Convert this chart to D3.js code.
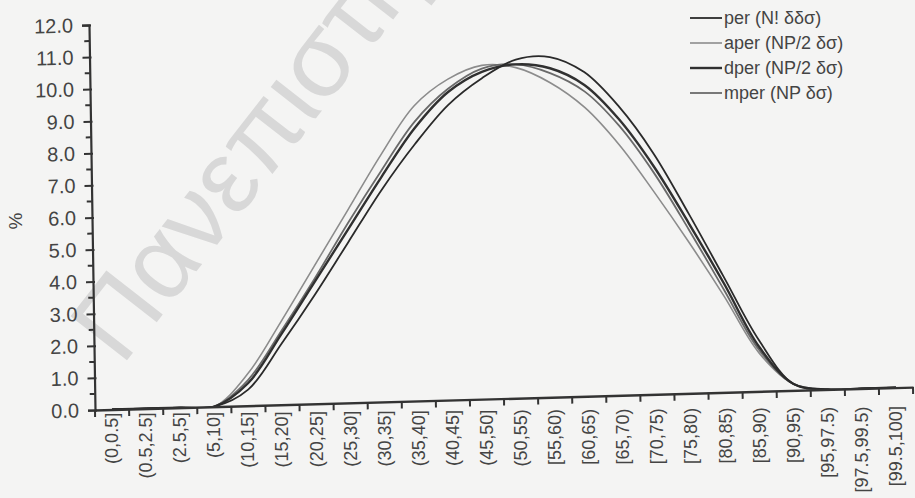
<!DOCTYPE html>
<html>
<head>
<meta charset="utf-8">
<script src="https://cdn.jsdelivr.net/npm/d3@7"></script>
<style>
  body { margin: 0; background: #f4f4f3; }
  svg { display: block; font-family: "Liberation Sans", Arial, sans-serif; }
</style>
</head>
<body>
<div id="grafico"></div>
<script>
// Datos
const categorias = ["(0,0.5]", "(0.5,2.5]", "(2.5,5]", "(5,10]", "(10,15]", "(15,20]", "(20,25]",
  "(25,30]", "(30,35]", "(35,40]", "(40,45]", "(45,50]", "(50,55)", "[55,60)", "[60,65)", "[65,70)",
  "[70,75)", "[75,80)", "[80,85)", "[85,90)", "[90,95)", "[95,97.5)", "[97.5,99.5)", "[99.5,100]"];

const per  = [0, 0, 0, 0, 0.5, 1.9, 3.4, 5.0, 6.6, 8.0, 9.2, 10.0, 10.55, 10.6, 10.1, 9.0, 7.5, 5.6, 3.6, 1.6, 0.2, 0, 0, 0];
const aper = [0, 0, 0, 0, 1.0, 2.6, 4.3, 6.0, 7.7, 9.2, 10.0, 10.4, 10.3, 9.8, 9.0, 7.8, 6.3, 4.7, 3.0, 1.2, 0.2, 0, 0, 0];
const dper = [0, 0, 0, 0, 0.7, 2.2, 3.8, 5.4, 7.0, 8.5, 9.6, 10.2, 10.4, 10.25, 9.7, 8.6, 7.1, 5.3, 3.4, 1.4, 0.2, 0, 0, 0];
const mper = [0, 0, 0, 0, 0.8, 2.3, 3.9, 5.6, 7.2, 8.7, 9.7, 10.3, 10.4, 10.1, 9.5, 8.4, 6.9, 5.1, 3.2, 1.3, 0.2, 0, 0, 0];

const nombres = ["per (N! δδσ)", "aper (NP/2 δσ)", "dper (NP/2 δσ)", "mper (NP δσ)"];
const ticksY = [0, 1, 2, 3, 4, 5, 6, 7, 8, 9, 10, 11, 12];

// Dimensiones
const ancho = 915;
const alto = 498;
const origen = { x: 95, y: 410 };
const largoX = 818;
const largoY = 385;

const series = [
  { nombre: nombres[1], valores: aper, color: "#8c8c8c", grosor: 1.6 },
  { nombre: nombres[3], valores: mper, color: "#6a6a6a", grosor: 1.8 },
  { nombre: nombres[2], valores: dper, color: "#303030", grosor: 2.4 },
  { nombre: nombres[0], valores: per,  color: "#2a2a2a", grosor: 1.8 }
];

const svg = d3.select("#grafico")
  .append("svg")
  .attr("width", ancho)
  .attr("height", alto);

svg.append("rect")
  .attr("width", ancho)
  .attr("height", alto)
  .attr("fill", "#f4f4f3");

// Marca de agua
svg.append("text")
  .attr("transform", "translate(100,350) rotate(-52)")
  .attr("font-size", 104)
  .attr("fill", "#d8d8d8")
  .attr("dominant-baseline", "middle")
  .text("Πανεπιστήμιο");

// Escalas
const escalaX = d3.scaleBand()
  .domain(categorias)
  .range([0, largoX]);

const escalaY = d3.scaleLinear()
  .domain([0, 12])
  .range([0, -largoY]);

// el escaneo está un poco torcido
const grafico = svg.append("g")
  .attr("transform", `matrix(1,-0.028,0.0156,1,${origen.x},${origen.y})`);

grafico.append("clipPath")
  .attr("id", "recorte")
  .append("rect")
  .attr("x", 0)
  .attr("y", -largoY - 20)
  .attr("width", largoX)
  .attr("height", largoY + 20);

const linea = d3.line()
  .x((d, i) => escalaX(categorias[i]) + escalaX.bandwidth() / 2)
  .y(d => escalaY(d))
  .curve(d3.curveCatmullRom.alpha(0.5));

grafico.append("g")
  .attr("clip-path", "url(#recorte)")
  .selectAll(".serie")
  .data(series)
  .enter()
  .append("path")
  .attr("class", "serie")
  .attr("d", d => linea(d.valores))
  .attr("fill", "none")
  .attr("stroke", d => d.color)
  .attr("stroke-width", d => d.grosor);

// Eje Y
const ejeY = grafico.append("g")
  .call(d3.axisLeft(escalaY).tickValues(ticksY).tickSize(7).tickPadding(9)
    .tickFormat(d3.format(".1f")));
ejeY.select(".domain").attr("stroke", "#333").attr("stroke-width", 2.2);
ejeY.selectAll(".tick line").attr("stroke", "#333").attr("stroke-width", 2).attr("x2", -7).attr("x1", 2);
ejeY.selectAll(".tick text")
  .attr("font-size", 20)
  .attr("fill", "#444")
  .attr("font-family", "Liberation Sans, Arial, sans-serif");

grafico.selectAll(".menor")
  .data(d3.range(0.5, 12, 1))
  .enter()
  .append("line")
  .attr("class", "menor")
  .attr("x1", -5)
  .attr("x2", 0)
  .attr("y1", d => escalaY(d))
  .attr("y2", d => escalaY(d))
  .attr("stroke", "#333")
  .attr("stroke-width", 2);

// Eje X
const ejeX = grafico.append("g")
  .call(d3.axisBottom(escalaX).tickSize(0).tickFormat(""));
ejeX.select(".domain").attr("stroke", "#333").attr("stroke-width", 2.4);

grafico.selectAll(".marcaX")
  .data(d3.range(0, categorias.length + 1))
  .enter()
  .append("line")
  .attr("class", "marcaX")
  .attr("x1", i => i * escalaX.step())
  .attr("x2", i => i * escalaX.step())
  .attr("y1", 0)
  .attr("y2", 7)
  .attr("stroke", "#333")
  .attr("stroke-width", 2);

// Etiquetas X (menos torcidas que el eje)
svg.selectAll(".etiquetaX")
  .data(categorias)
  .enter()
  .append("text")
  .attr("class", "etiquetaX")
  .attr("transform", d => {
    const x = origen.x + escalaX(d) + escalaX.bandwidth() / 2;
    const y = 413 - 0.0086 * (x - origen.x);
    return `translate(${x + 6},${y}) rotate(-90)`;
  })
  .attr("text-anchor", "end")
  .attr("font-size", 18)
  .attr("fill", "#444")
  .text(d => d);

// Titulo eje Y
svg.append("text")
  .attr("transform", "translate(22,221) rotate(-90)")
  .attr("text-anchor", "middle")
  .attr("font-size", 19)
  .attr("fill", "#444")
  .text("%");

// Leyenda
const leyenda = svg.append("g")
  .attr("transform", "translate(690,18)");

const ordenLeyenda = [series[3], series[0], series[2], series[1]];

const item = leyenda.selectAll(".item")
  .data(ordenLeyenda)
  .enter()
  .append("g")
  .attr("class", "item")
  .attr("transform", (d, i) => `translate(0,${i * 25})`);

item.append("line")
  .attr("x1", 0)
  .attr("x2", 32)
  .attr("stroke", d => d.color)
  .attr("stroke-width", d => d.grosor);

item.append("text")
  .attr("x", 34)
  .attr("dy", "0.35em")
  .attr("font-size", 18)
  .attr("fill", "#444")
  .text(d => d.nombre);
</script>
</body>
</html>
